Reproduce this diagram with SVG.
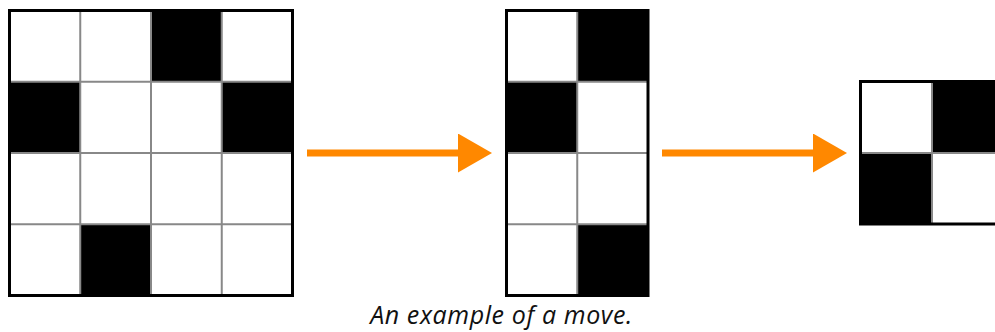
<svg xmlns="http://www.w3.org/2000/svg" width="995" height="332" viewBox="0 0 995 332">
  <style>
    .cell { fill: #ffffff; }
    .on { fill: #000000; }
    .grid { stroke: #888888; stroke-width: 2; fill: none; }
    .frame { stroke: #000000; stroke-width: 3; fill: none; }
    .shaft { stroke: #ff8800; stroke-width: 7; fill: none; }
    .caption { font-family: "Open Sans", "Liberation Sans", sans-serif; font-style: italic; font-size: 25px; letter-spacing: 0.6px; fill: #111111; }
  </style>
  <defs>
    <marker id="head" markerUnits="userSpaceOnUse" markerWidth="34" markerHeight="39" viewBox="0 0 34 39" refX="0" refY="19.5" orient="auto">
      <path d="M0,0 L34,19.5 L0,39 Z" fill="#ff8800"/>
    </marker>
  </defs>
  <rect width="995" height="332" fill="#ffffff"/>

  <!-- 4x4 board -->
  <g id="board-a">
    <rect class="cell" x="9.5" y="10.5" width="283" height="285"/>
    <rect class="on" x="151" y="10.5" width="70.75" height="71.25"/>
    <rect class="on" x="9.5" y="81.75" width="70.75" height="71.25"/>
    <rect class="on" x="221.75" y="81.75" width="70.75" height="71.25"/>
    <rect class="on" x="80.25" y="224.25" width="70.75" height="71.25"/>
    <path class="grid" d="M80.25,10.5V295.5 M151,10.5V295.5 M221.75,10.5V295.5 M9.5,81.75H292.5 M9.5,153H292.5 M9.5,224.25H292.5"/>
    <rect class="frame" x="9.5" y="10.5" width="283" height="285"/>
  </g>

  <!-- 2x4 board -->
  <g id="board-b">
    <rect class="cell" x="506.5" y="10.5" width="141.5" height="285"/>
    <rect class="on" x="577.25" y="10.5" width="70.75" height="71.25"/>
    <rect class="on" x="506.5" y="81.75" width="70.75" height="71.25"/>
    <rect class="on" x="577.25" y="224.25" width="70.75" height="71.25"/>
    <path class="grid" d="M577.25,10.5V295.5 M506.5,81.75H648 M506.5,153H648 M506.5,224.25H648"/>
    <rect class="frame" x="506.5" y="10.5" width="141.5" height="285"/>
  </g>

  <!-- 2x2 board -->
  <g id="board-c">
    <rect class="cell" x="860.5" y="81.5" width="142.5" height="142.5"/>
    <rect class="on" x="932" y="81.5" width="71" height="71.5"/>
    <rect class="on" x="860.5" y="153" width="71.5" height="71"/>
    <path class="grid" d="M932,81.5V224 M860.5,153H1003"/>
    <rect class="frame" x="860.5" y="81.5" width="142.5" height="142.5"/>
  </g>

  <!-- moves -->
  <g id="connectors">
    <line class="shaft" x1="307" y1="153" x2="458" y2="153" marker-end="url(#head)"/>
    <line class="shaft" x1="662" y1="153" x2="813" y2="153" marker-end="url(#head)"/>
  </g>

  <text class="caption" x="501.5" y="324" text-anchor="middle">An example of a move.</text>
</svg>
